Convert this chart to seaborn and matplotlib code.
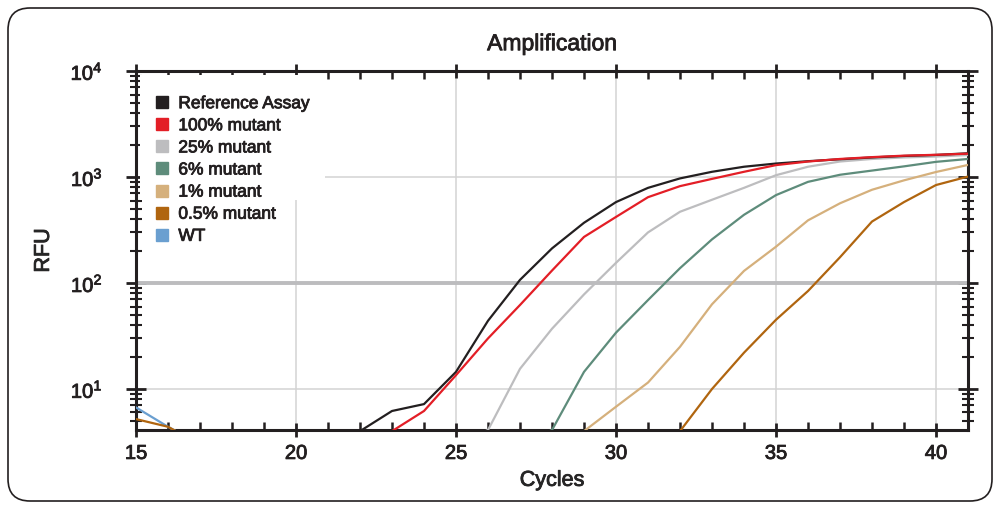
import numpy as np
import pandas as pd
import seaborn as sns
import matplotlib.pyplot as plt
import matplotlib.patheffects as pe
from matplotlib.text import Text
from matplotlib.lines import Line2D
from matplotlib.patches import FancyBboxPatch, Rectangle
from matplotlib.ticker import MultipleLocator, LogLocator, NullFormatter

# cycles and RFU per curve (values under 4.1 fall below the axis)
cycles = list(range(15, 42))

reference = [3.0] * 7 + [4.0, 6.2, 7.2, 14.5, 44, 107, 212, 370, 580, 790, 970,
                         1120, 1250, 1340, 1410, 1470, 1530, 1580, 1615, 1675]
mut100 = [3.0] * 8 + [4.0, 6.2, 13.5, 30, 62, 131, 272, 420, 645, 820, 960,
                      1120, 1295, 1400, 1480, 1540, 1590, 1620, 1660]
mut25 = [3.0] * 11 + [4.1, 15.5, 37, 78, 155, 300, 470, 610, 790, 1040, 1250,
                      1400, 1480, 1530, 1560, 1610]
mut6 = [3.0] * 13 + [4.1, 14.5, 34, 69, 138, 258, 440, 675, 900, 1050, 1150,
                     1260, 1390, 1480]
mut1 = [3.0] * 14 + [4.0, 6.8, 11.5, 25, 63, 130, 220, 390, 565, 758, 930,
                     1115, 1300]
mut05 = [5.2, 4.4] + [3.0] * 15 + [4.0, 10, 22, 45, 84, 175, 380, 580, 840, 1010]
wt = [6.7, 4.4] + [3.0] * 25

labels = ["Reference Assay", "100% mutant", "25% mutant", "6% mutant",
          "1% mutant", "0.5% mutant", "WT"]
colors = ["#231f20", "#e31e26", "#bdbdbf", "#5e8c7b", "#d5b07c", "#b0650f", "#6a9fd0"]
threshold = 100

series = [reference, mut100, mut25, mut6, mut1, mut05, wt]
df = pd.concat([pd.DataFrame({"Cycles": cycles, "RFU": s, "Sample": lab})
                for s, lab in zip(series, labels)])

ink = "#231f20"
sns.set_style("white")
plt.rcParams['font.family'] = ['Liberation Sans', 'DejaVu Sans']
plt.rcParams['mathtext.fontset'] = 'custom'
plt.rcParams['mathtext.rm'] = 'Liberation Sans'
plt.rcParams['text.color'] = ink
plt.rcParams['xtick.color'] = ink
plt.rcParams['ytick.color'] = ink

fig = plt.figure(figsize=(10, 5.08), dpi=100)
ax = fig.add_axes([0.136, 0.1535, 0.832, 0.7067])

palette = dict(zip(labels, colors))
draw_order = ["WT", "0.5% mutant", "1% mutant", "6% mutant", "25% mutant",
              "Reference Assay", "100% mutant"]
sns.lineplot(data=df, x="Cycles", y="RFU", hue="Sample", hue_order=draw_order,
             palette=palette, linewidth=1.6, legend=False, ax=ax, zorder=3)

ax.axhline(threshold, color="#bcbcbe", lw=2.8, zorder=2)

ax.set_yscale("log")
ax.set_xlim(15, 41)
ax.set_ylim(4.1, 1e4)
ax.xaxis.set_major_locator(MultipleLocator(5))
ax.xaxis.set_minor_locator(MultipleLocator(1))
ax.yaxis.set_minor_locator(LogLocator(base=10, subs=np.arange(2, 10)))
ax.yaxis.set_minor_formatter(NullFormatter())

ax.grid(which="major", color="#d3d3d3", lw=1.1, zorder=0)
ax.set_axisbelow(True)

# white patch behind the legend hides the grid there, as in the original
ax.add_patch(Rectangle((0.005, 0.64), 0.222, 0.35, transform=ax.transAxes,
                       facecolor="white", edgecolor="none", zorder=1))

for sp in ax.spines.values():
    sp.set_color(ink)
    sp.set_linewidth(2.2)
    sp.set_visible(True)

ax.tick_params(axis="x", which="major", direction="inout", length=10, width=2,
               top=True, bottom=True, labelsize=14.5, pad=5)
ax.tick_params(axis="x", which="minor", direction="in", length=6, width=1.8,
               top=True, bottom=True)
ax.tick_params(axis="y", which="major", direction="inout", length=14, width=2,
               left=True, right=True, labelsize=14.5, pad=17)
ax.tick_params(axis="y", which="minor", direction="inout", length=9, width=1.5,
               left=True, right=True)

ax.set_xlabel("Cycles", fontsize=15.5, labelpad=5)
ax.set_ylabel("RFU", fontsize=15.5, labelpad=12)
ax.set_title("Amplification", fontsize=16.5, pad=15)

handles = [Line2D([], [], marker="s", linestyle="none", markersize=8,
                  markerfacecolor=c, markeredgecolor=c) for c in colors]
leg = ax.legend(handles, labels, loc="upper left", bbox_to_anchor=(0.005, 0.969),
                fontsize=12.5, frameon=False,
                handlelength=0.9, handletextpad=0.5, labelspacing=0.4,
                borderpad=0.5, borderaxespad=0.3)
leg.set_zorder(4)

# rounded frame around the whole figure
frame = FancyBboxPatch((0.08, 0.07), 9.84, 4.93,
                       boxstyle="round,pad=0,rounding_size=0.22",
                       transform=fig.dpi_scale_trans, fill=False,
                       lw=1.2, edgecolor=ink)
fig.patches.append(frame)

# thicken the text a little, the original uses a medium weight
fig.canvas.draw()
for t in fig.findobj(Text):
    t.set_path_effects([pe.withStroke(linewidth=0.6, foreground=ink)])

fig.savefig("out.png", dpi=100)
